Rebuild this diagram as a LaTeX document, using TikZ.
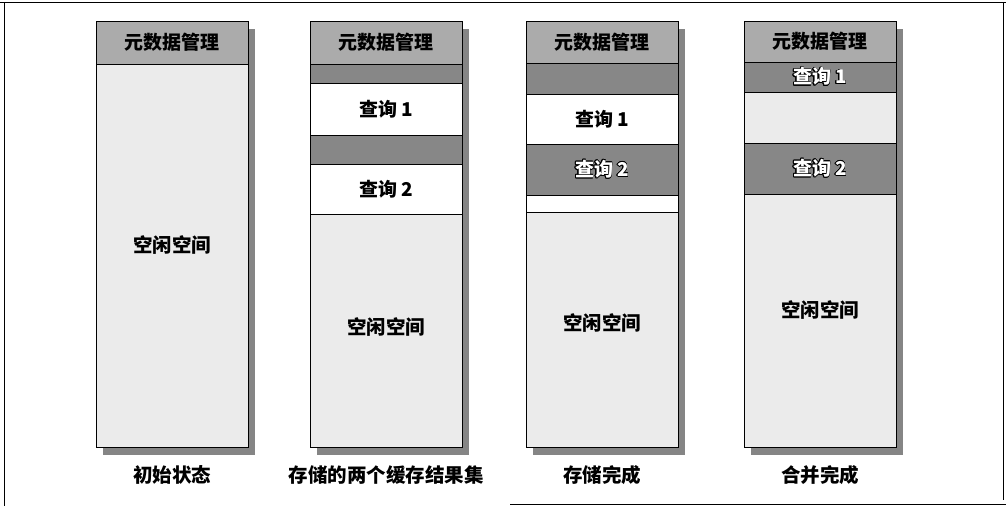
\documentclass[tikz,border=0pt]{standalone}
\usepackage{fontspec}
\usepackage{contour}
\newfontfamily\cjk{Noto Sans CJK SC}
\usetikzlibrary{positioning}
\usetikzlibrary{calc}
\usetikzlibrary{backgrounds}
\contourlength{0.6pt}
\definecolor{metagray}{gray}{0.67}
\definecolor{usedgray}{gray}{0.53}
\definecolor{freegray}{gray}{0.92}
\definecolor{shadowgray}{gray}{0.52}
\tikzset{
    memory map/.style={
            x=1pt,y=-1pt,
            node distance=0pt,
            seg/.style={draw,line width=0.9pt,outer sep=0pt,inner sep=0pt,minimum width=152pt,
                font=\cjk\bfseries\fontsize{19}{19}\selectfont},
            meta/.style={seg,fill=metagray},
            used/.style={seg,fill=usedgray,text=white},
            query/.style={seg,fill=white},
            free/.style={seg,fill=freegray},
            shadow/.style={fill=shadowgray},
            freetext/.style={font=\cjk\bfseries\fontsize{19.5}{19.5}\selectfont},
            caption/.style={font=\cjk\bfseries\fontsize{19.5}{19.5}\selectfont}
        }
    }

\begin{document}
\begin{tikzpicture}[memory map]
    \useasboundingbox (0,0) rectangle (1006,506);
    % frame
    \draw [line width=0.8pt] (0,2) -- (1006,2);
    \draw [line width=0.8pt] (4,2) -- (4,506);
    \draw [line width=0.8pt] (1003,2) -- (1003,500);
    \draw [line width=0.8pt] (510,504) -- (1006,504);
    % initial state
    \node (m1) [meta,minimum height=43pt,anchor=north west] at (96,21) {元数据管理};
    \node (f1) [free,minimum height=383pt,below=of m1] {};
    \node (t1) [freetext] at (172,245) {空闲空间};
    \node (s1) [caption,below=15pt of f1] {初始状态};
    % two cached result sets stored
    \node (m2) [meta,minimum height=43pt,anchor=north west] at (310,21) {元数据管理};
    \node (u2a) [used,minimum height=19pt,below=of m2] {};
    \node (q2a) [query,minimum height=52pt,below=of u2a] {查询 1};
    \node (u2b) [used,minimum height=29pt,below=of q2a] {};
    \node (q2b) [query,minimum height=50pt,below=of u2b] {查询 2};
    \node (f2) [free,minimum height=233pt,below=of q2b] {};
    \node (t2) [freetext] at (386,327) {空闲空间};
    \node (s2) [caption,below=15pt of f2] {存储的两个缓存结果集};
    % storing done
    \node (m3) [meta,minimum height=42pt,anchor=north west] at (526,21) {元数据管理};
    \node (u3a) [used,minimum height=31pt,below=of m3] {};
    \node (q3a) [query,minimum height=50pt,below=of u3a] {查询 1};
    \node (q3b) [used,minimum height=51pt,below=of q3a] {\contour{black}{查询 2}};
    \node (w3) [query,minimum height=17pt,below=of q3b] {};
    \node (f3) [free,minimum height=235pt,below=of w3] {};
    \node (t3) [freetext] at (602,323) {空闲空间};
    \node (s3) [caption,below=15pt of f3] {存储完成};
    % merging done
    \node (m4) [meta,minimum height=41pt,anchor=north west] at (744,21) {元数据管理};
    \node (q4a) [used,minimum height=30pt,below=of m4] {\contour{black}{查询 1}};
    \node (g4) [free,minimum height=51pt,below=of q4a] {};
    \node (q4b) [used,minimum height=51pt,below=of g4] {\contour{black}{查询 2}};
    \node (f4) [free,minimum height=253pt,below=of q4b] {};
    \node (t4) [freetext] at (820,310) {空闲空间};
    \node (s4) [caption,below=15pt of f4] {合并完成};
    % shadows
    \begin{scope}[on background layer]
        \foreach \top/\bottom in {m1/f1,m2/f2,m3/f3,m4/f4}
            \fill [shadow] ($(\top.north west)+(7,8)$) rectangle ($(\bottom.south east)+(7,8)$);
    \end{scope}
\end{tikzpicture}
\end{document}
